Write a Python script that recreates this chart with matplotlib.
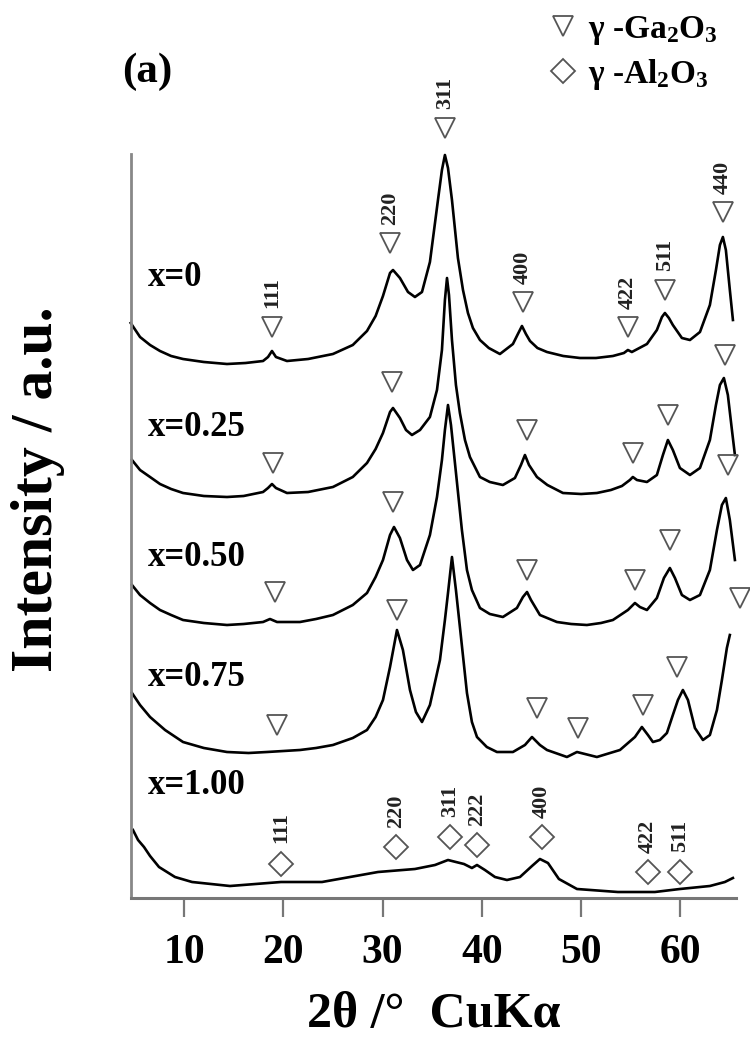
import matplotlib
matplotlib.use('Agg')
import matplotlib.pyplot as plt
from matplotlib.lines import Line2D

plt.rcParams['font.family'] = ['Liberation Serif', 'DejaVu Serif']
plt.rcParams['font.weight'] = 'bold'
plt.rcParams['mathtext.fontset'] = 'custom'
plt.rcParams['mathtext.rm'] = 'Liberation Serif:bold'
plt.rcParams['mathtext.it'] = 'Liberation Serif:italic'
plt.rcParams['mathtext.bf'] = 'Liberation Serif:bold'
plt.rcParams['mathtext.default'] = 'rm'

# ---------------- data (2theta in degrees, intensity in a.u., stacked) ----------------
curve_names = ['x=0', 'x=0.25', 'x=0.50', 'x=0.75', 'x=1.00']

theta_x000 = [4.63, 5.57, 6.58, 7.58, 8.7, 9.90, 12.0, 14.33, 16.2, 17.96, 18.46, 18.86, 19.26,
              20.37, 22.5, 25.00, 27.0, 28.43, 29.3, 30.04, 30.75, 31.05, 31.75, 32.56, 33.26,
              33.97, 34.77, 35.58, 35.98, 36.28, 36.59, 36.99, 37.59, 38.1, 38.60, 39.1, 39.81,
              40.7, 41.82, 43.13, 43.63, 44.04, 44.44, 44.85, 45.6, 46.56, 48.2, 49.88, 51.5,
              53.20, 54.31, 54.71, 55.11, 56.63, 57.63, 58.14, 58.44, 58.84, 59.24, 60.15, 60.96,
              61.97, 62.97, 63.58, 63.98, 64.28, 64.58, 64.98, 65.29]
inten_x000 = [575, 561, 553, 547, 542, 539, 536, 534, 535, 537, 541, 547, 541,
              537, 539, 544, 553, 567, 582, 602, 625, 628, 620, 606, 601,
              606, 636, 698, 728, 743, 730, 698, 640, 608, 585, 570, 558,
              550, 544, 554, 564, 572, 564, 557, 550, 546, 542, 540, 540,
              542, 545, 548, 546, 554, 568, 581, 585, 580, 573, 560, 558,
              566, 593, 628, 653, 661, 648, 608, 578]

theta_x025 = [4.76, 5.57, 6.58, 7.58, 8.7, 9.90, 12.0, 14.33, 16.0, 17.96, 18.46, 18.86, 19.26,
              20.37, 22.5, 25.00, 27.0, 28.43, 29.3, 30.04, 30.75, 31.05, 31.75, 32.36, 32.96,
              33.77, 34.77, 35.48, 35.98, 36.28, 36.49, 36.69, 36.99, 37.39, 37.79, 38.30, 38.80,
              39.81, 40.8, 42.12, 43.33, 43.94, 44.34, 44.75, 45.55, 46.6, 48.17, 50.0, 51.59,
              53.0, 54.11, 54.91, 55.21, 55.62, 56.63, 57.63, 58.24, 58.74, 59.24, 59.95, 60.96,
              61.97, 62.97, 63.58, 63.98, 64.38, 64.78, 65.19, 65.49]
inten_x025 = [438, 428, 421, 414, 409, 405, 402, 401, 402, 406, 410, 414, 410,
              405, 406, 411, 421, 435, 449, 465, 486, 490, 480, 468, 463,
              468, 481, 508, 548, 598, 620, 603, 558, 513, 485, 458, 441,
              421, 416, 413, 420, 433, 443, 433, 421, 413, 405, 404, 405,
              408, 412, 418, 421, 418, 416, 423, 443, 458, 448, 430, 423,
              430, 458, 493, 513, 520, 503, 468, 443]

theta_x050 = [4.76, 5.57, 6.58, 7.58, 8.7, 9.90, 12.0, 14.33, 16.0, 17.96, 18.66, 19.37, 21.68,
              23.3, 25.00, 27.0, 28.43, 29.3, 30.04, 30.75, 31.15, 31.75, 32.46, 33.06, 33.77,
              34.77, 35.48, 35.98, 36.28, 36.59, 36.89, 37.29, 37.99, 38.50, 39.00, 39.81, 40.8,
              42.12, 43.53, 44.14, 44.55, 44.95, 45.85, 47.56, 49.0, 50.58, 52.0, 53.20, 54.71,
              55.42, 55.92, 56.63, 57.63, 58.34, 58.94, 59.45, 60.15, 60.96, 61.97, 62.97, 63.68,
              64.18, 64.58, 64.98, 65.49]
inten_x050 = [313, 303, 295, 288, 283, 278, 275, 273, 274, 276, 279, 276, 276,
              279, 283, 293, 305, 321, 338, 363, 371, 360, 338, 328, 333,
              363, 401, 438, 468, 493, 473, 435, 368, 328, 308, 290, 284,
              281, 290, 301, 306, 298, 283, 276, 274, 273, 275, 278, 288,
              295, 291, 288, 300, 320, 330, 320, 303, 298, 303, 328, 368,
              393, 400, 378, 338]

theta_x075 = [4.76, 5.57, 6.58, 8.09, 9.90, 12.0, 14.33, 16.5, 18.36, 21.68, 23.3, 25.00, 27.0,
              28.43, 29.3, 30.04, 30.75, 31.45, 32.05, 32.76, 33.36, 33.97, 34.77, 35.78, 36.28,
              36.59, 36.99, 37.39, 37.79, 38.50, 39.00, 39.51, 40.5, 41.52, 43.13, 44.34, 45.05,
              45.85, 46.56, 48.57, 49.58, 51.59, 53.91, 55.42, 56.12, 56.73, 57.23, 57.93, 58.64,
              59.24, 59.75, 60.25, 60.76, 61.46, 62.27, 62.97, 63.68, 64.18, 64.68, 64.98]
inten_x075 = [205, 193, 181, 168, 156, 150, 146, 145, 146, 148, 150, 153, 160,
              168, 181, 198, 231, 268, 248, 208, 186, 176, 193, 238, 278,
              305, 341, 308, 271, 205, 176, 161, 151, 146, 146, 153, 161,
              153, 148, 141, 146, 141, 148, 161, 171, 163, 156, 158, 165,
              183, 198, 208, 198, 170, 158, 163, 188, 218, 250, 263]

theta_x100 = [4.86, 5.37, 5.97, 6.58, 7.48, 9.09, 10.81, 14.63, 19.77, 23.90, 29.54, 33.26, 35.28,
              36.59, 37.39, 38.20, 39.00, 39.51, 40.31, 41.32, 42.53, 43.84, 45.05, 45.85, 46.66,
              47.76, 49.58, 53.70, 57.43, 59.95, 62.97, 64.48, 65.29]
inten_x100 = [68, 58, 51, 42, 31, 21, 16, 12, 16, 16, 26, 29, 33,
              38, 36, 34, 30, 33, 28, 21, 18, 21, 32, 39, 35,
              19, 9, 6, 6, 9, 12, 16, 20]

# sample-label anchor (2theta, a.u.)
name_theta = [6.38, 6.38, 6.38, 6.38, 6.38]
name_inten = [621, 470, 341, 221, 112]

# gamma-Ga2O3 reflection markers (triangles)
ga_hkl = [['111', '220', '311', '400', '422', '511', '440'],
          ['111', '220', '400', '422', '511', '440'],
          ['111', '220', '400', '422', '511', '440'],
          ['111', '220', '400', '', '422', '511', '440']]
ga_theta = [[18.86, 30.75, 36.28, 44.14, 54.71, 58.44, 64.28],
            [18.96, 30.95, 44.55, 55.21, 58.74, 64.48],
            [19.16, 31.05, 44.55, 55.42, 58.94, 64.78],
            [19.37, 31.45, 45.55, 49.68, 56.22, 59.65, 66.00]]
ga_inten = [[571, 655, 770, 596, 571, 608, 686],
            [435, 516, 468, 445, 483, 543],
            [306, 396, 328, 318, 358, 433],
            [173, 288, 190, 170, 193, 231, 300]]
ga_labelled = [True, False, False, False]

# gamma-Al2O3 reflection markers (diamonds) for x=1.00
al_hkl = ['111', '220', '311', '222', '400', '422', '511']
al_theta = [19.77, 31.35, 36.79, 39.51, 46.05, 56.73, 59.95]
al_inten = [34, 51, 61, 53, 61, 26, 26]

xticks = [10, 20, 30, 40, 50, 60]
x_range = (4.63, 65.6)
y_range = (0, 744)

# ---------------- figure ----------------
fig = plt.figure(figsize=(7.5, 10.5), dpi=100)
ax = fig.add_axes([130.7 / 750, 1 - 898 / 1050, (736 - 130.7) / 750, (898 - 154) / 1050])

thetas = [theta_x000, theta_x025, theta_x050, theta_x075, theta_x100]
intens = [inten_x000, inten_x025, inten_x050, inten_x075, inten_x100]
for t, i in zip(thetas, intens):
    ax.plot(t, i, color='black', lw=1.9, solid_joinstyle='round', clip_on=False)

for nm, t, i in zip(curve_names, name_theta, name_inten):
    ax.text(t, i, nm, fontsize=25, fontweight='bold', ha='left', va='center')

mk_color = '#555555'
for hkls, ts, ins, lab in zip(ga_hkl, ga_theta, ga_inten, ga_labelled):
    ax.plot(ts, ins, ls='none', marker='v', ms=14, mfc='none', mec=mk_color, mew=1.3,
            clip_on=False)
    if lab:
        for h, t, i in zip(hkls, ts, ins):
            ax.annotate(h, (t, i), xytext=(0, 25), textcoords='offset points', rotation=90,
                        ha='center', va='center', fontsize=16, fontweight='bold',
                        color='#222222', annotation_clip=False)

ax.plot(al_theta, al_inten, ls='none', marker='D', ms=12, mfc='none', mec=mk_color, mew=1.3,
        clip_on=False)
for h, t, i in zip(al_hkl, al_theta, al_inten):
    ax.annotate(h, (t, i), xytext=(0, 26), textcoords='offset points', rotation=90,
                ha='center', va='center', fontsize=16, fontweight='bold', color='#222222',
                annotation_clip=False)

ax.set_xlim(*x_range)
ax.set_ylim(*y_range)
ax.set_xticks(xticks)
ax.set_xticklabels([str(v) for v in xticks], fontsize=30, fontweight='bold')
ax.set_yticks([])
for s in ['top', 'right']:
    ax.spines[s].set_visible(False)
ax.spines['left'].set_color('#888888')
ax.spines['bottom'].set_color('#777777')
ax.spines['left'].set_linewidth(2)
ax.spines['bottom'].set_linewidth(2.2)
ax.tick_params(axis='x', direction='out', length=14, width=1.6, color='#777777', pad=12)

ax.set_xlabel('2θ /°  CuKα', fontsize=36, fontweight='bold', labelpad=14)
ax.set_ylabel('Intensity / a.u.', fontsize=43, fontweight='bold')
ax.yaxis.set_label_coords(-0.108, 0.55)

fig.text(147 / 750, 1 - 72 / 1050, '(a)', fontsize=31, fontweight='bold', ha='center', va='center')

handles = [Line2D([], [], ls='none', marker='v', ms=14, mfc='none', mec=mk_color, mew=1.3),
           Line2D([], [], ls='none', marker='D', ms=12, mfc='none', mec=mk_color, mew=1.3)]
labels = ['γ -Ga$_2$O$_3$', 'γ -Al$_2$O$_3$']
fig.legend(handles, labels, loc='upper left', bbox_to_anchor=(548 / 750, 1 - 14 / 1050),
           frameon=False, fontsize=24, handlelength=0.9, handletextpad=0.3,
           labelspacing=0.3, borderpad=0, borderaxespad=0)

fig.savefig('out.png', dpi=100)
